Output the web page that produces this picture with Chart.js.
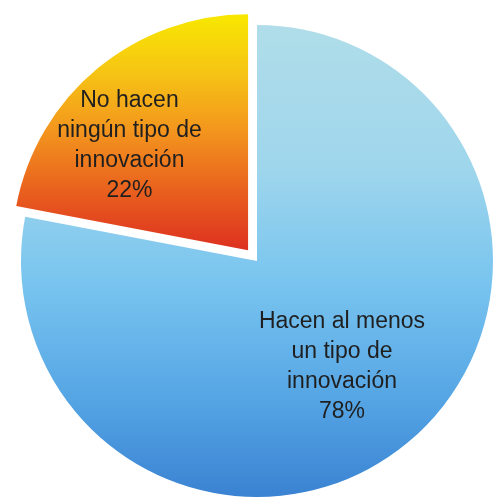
<!DOCTYPE html>
<html>
<head>
<meta charset="utf-8">
<script src="https://cdn.jsdelivr.net/npm/chart.js@4.4.1/dist/chart.umd.min.js"></script>
<style>
    html, body { margin: 0; padding: 0; background: #ffffff; }
    #wrap { width: 495px; height: 500px; }
</style>
</head>
<body>
<div id="wrap"><canvas id="pieChart"></canvas></div>
<script>
// ---------------------------------------------
// Data
// ---------------------------------------------
const sliceLabels = [
    ["Hacen al menos", "un tipo de", "innovación"],
    ["No hacen", "ningún tipo de", "innovación"]
];
const sliceValues = [78, 22];

// ---------------------------------------------
// Style
// ---------------------------------------------
const PIE_RADIUS = 236;
const SLICE_SHIFT = [0, 14];   // px the slice is pulled out along its bisector

// vertical gradient stops for each slice (fraction of span, colour)
const GRADIENTS = [
    [[0, "#b0dde9"], [0.3, "#9fd6ec"], [0.55, "#78c4ef"], [0.8, "#54a4e4"], [1, "#3a82d2"]],
    [[0, "#f8e800"], [0.25, "#f6c414"], [0.5, "#f3941e"], [0.75, "#e9601e"], [1, "#dd3020"]]
];

// where each label block sits: fraction of radius and angle shift (deg)
const LABEL_POS = [
    { frac: 0.576, shift: 0.9 },
    { frac: 0.67, shift: -9 }
];

const FONT = "23px 'Liberation Sans', Arial, sans-serif";
const LINE_HEIGHT = 30;

// ---------------------------------------------
// Gradient fill per slice
// ---------------------------------------------
function sliceFill(context) {
    const chart = context.chart;
    const area = chart.chartArea;
    if (!area) return "#80c8ef";

    const i = context.dataIndex;
    const cx = (area.left + area.right) / 2;
    const cy = (area.top + area.bottom) / 2;
    const top = cy - PIE_RADIUS;
    // the small slice only covers the upper half
    const bottom = i === 1 ? cy : cy + PIE_RADIUS;

    const grad = chart.ctx.createLinearGradient(cx, top, cx, bottom);
    GRADIENTS[i].forEach(([stop, col]) => grad.addColorStop(stop, col));
    return grad;
}

// ---------------------------------------------
// Draw arcs pulled out without growing them
// ---------------------------------------------
const explode = {
    id: "explode",
    beforeDatasetDraw(chart, args) {
        const ctx = chart.ctx;
        args.meta.data.forEach((arc, i) => {
            const mid = (arc.startAngle + arc.endAngle) / 2;
            ctx.save();
            ctx.translate(Math.cos(mid) * SLICE_SHIFT[i], Math.sin(mid) * SLICE_SHIFT[i]);
            arc.draw(ctx, chart.chartArea);
            ctx.restore();
        });
        return false;
    }
};

// ---------------------------------------------
// Labels drawn inside slices
// ---------------------------------------------
const sliceText = {
    id: "sliceText",
    afterDatasetsDraw(chart) {
        const meta = chart.getDatasetMeta(0);
        const ctx = chart.ctx;

        ctx.save();
        ctx.font = FONT;
        ctx.fillStyle = "#1f1f1f";
        ctx.textAlign = "center";
        ctx.textBaseline = "middle";

        meta.data.forEach((arc, i) => {
            const mid = (arc.startAngle + arc.endAngle) / 2;
            const ox = arc.x + Math.cos(mid) * SLICE_SHIFT[i];
            const oy = arc.y + Math.sin(mid) * SLICE_SHIFT[i];

            const a = mid + LABEL_POS[i].shift * Math.PI / 180;
            const r = arc.outerRadius * LABEL_POS[i].frac;
            const x = ox + Math.cos(a) * r;
            const y = oy + Math.sin(a) * r;

            const lines = sliceLabels[i].concat([`${sliceValues[i]}%`]);
            const startY = y - (lines.length - 1) * LINE_HEIGHT / 2;

            lines.forEach((line, j) => {
                ctx.fillText(line, x, startY + j * LINE_HEIGHT);
            });
        });

        ctx.restore();
    }
};

// ---------------------------------------------
// Chart
// ---------------------------------------------
new Chart(document.getElementById("pieChart"), {

    type: "pie",

    data: {
        labels: sliceLabels.map(l => l.join(" ")),
        datasets: [
            {
                data: sliceValues,
                backgroundColor: sliceFill,
                borderWidth: 0,
                offset: 0,
                hoverOffset: 0
            }
        ]
    },

    options: {
        responsive: true,
        maintainAspectRatio: false,
        animation: false,
        radius: PIE_RADIUS,
        layout: {
            padding: { left: 19, right: 0, top: 22, bottom: 0 }
        },
        events: [],
        plugins: {
            legend: { display: false },
            tooltip: { enabled: false }
        }
    },

    plugins: [explode, sliceText]

});
</script>
</body>
</html>
